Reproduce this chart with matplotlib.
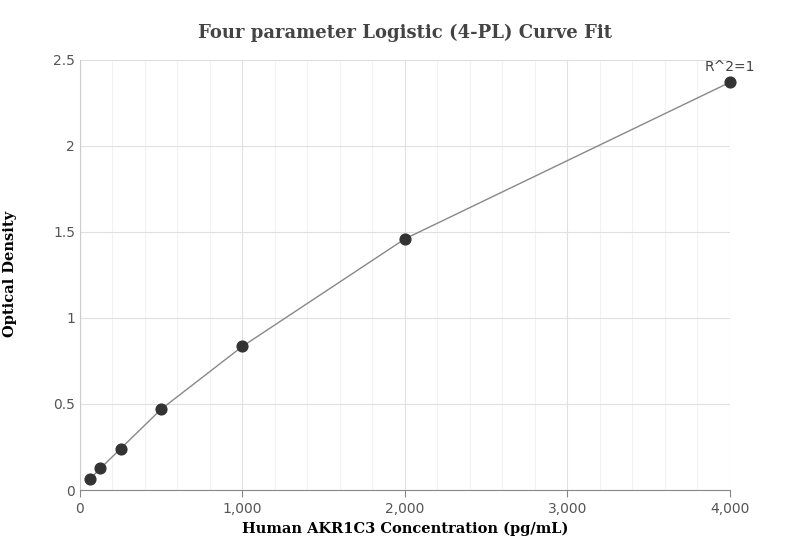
import matplotlib.pyplot as plt
import numpy as np
from matplotlib.ticker import MultipleLocator, FuncFormatter

conc = [62.5, 125, 250, 500, 1000, 2000, 4000]
od = [0.065, 0.125, 0.24, 0.47, 0.835, 1.46, 2.37]

fig = plt.figure(figsize=(8.11, 5.6), dpi=100)
ax = fig.add_axes([0.0986, 0.125, 0.8015, 0.768])

ax.plot(conc, od, color="#888888", lw=1, zorder=2)
ax.scatter(conc, od, s=60, color="#333333", zorder=3, clip_on=False)
ax.annotate("R^2=1", (conc[-1], od[-1]), xytext=(0, 6), textcoords="offset points",
            ha="center", va="bottom", fontsize=10, color="#444444")

ax.set_xlim(0, 4000)
ax.set_ylim(0, 2.5)
ax.xaxis.set_major_locator(MultipleLocator(1000))
ax.xaxis.set_minor_locator(MultipleLocator(200))
ax.yaxis.set_major_locator(MultipleLocator(0.5))
ax.xaxis.set_major_formatter(FuncFormatter(lambda v, p: f"{int(v):,}"))
ax.yaxis.set_major_formatter(FuncFormatter(lambda v, p: f"{v:g}"))
ax.grid(which="major", color="#e0e0e0", lw=0.8)
ax.grid(which="minor", axis="x", color="#f2f2f2", lw=0.8)
ax.set_axisbelow(True)
for s in ["top", "right"]:
    ax.spines[s].set_visible(False)
ax.spines["left"].set_color("#cccccc")
ax.spines["bottom"].set_color("#888888")
ax.tick_params(which="both", length=0, colors="#555555", labelsize=10)
ax.tick_params(axis="x", which="major", length=5, color="#888888")

ax.set_title("Four parameter Logistic (4-PL) Curve Fit", fontfamily="serif",
             fontweight="bold", fontsize=13, color="#444444", pad=16)
ax.set_xlabel("Human AKR1C3 Concentration (pg/mL)", fontfamily="serif",
              fontweight="bold", fontsize=10.5)
fig.text(0.012, 0.51, "Optical Density", fontfamily="serif", fontweight="bold",
         fontsize=10.5, rotation=90, ha="center", va="center")

fig.savefig("out.png")
